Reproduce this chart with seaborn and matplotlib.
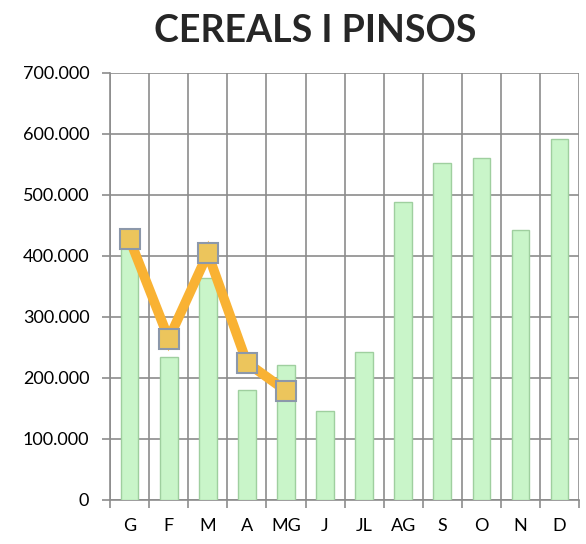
import numpy as np
import pandas as pd
import matplotlib
matplotlib.use('Agg')
import matplotlib.pyplot as plt
from matplotlib.ticker import FuncFormatter, MultipleLocator, FixedLocator
import seaborn as sns

# dades llegides del gràfic
mesos = ['G', 'F', 'M', 'A', 'MG', 'J', 'JL', 'AG', 'S', 'O', 'N', 'D']
barres = [420000, 234000, 363000, 181000, 222000, 146000, 242000, 488000, 553000, 560000, 443000, 591000]
linia_mesos = ['G', 'F', 'M', 'A', 'MG']
linia = [427000, 264000, 404000, 225000, 179000]

sns.set_theme(style='white')
plt.rcParams['font.family'] = ['Lato', 'DejaVu Sans']

df = pd.DataFrame({'mes': mesos, 'valor': barres})
df_l = pd.DataFrame({'mes': linia_mesos, 'valor': linia})

fig = plt.figure(figsize=(5.86, 5.44), dpi=100)
ax = fig.add_axes([0.188, 0.081, 0.800, 0.785])

sns.barplot(data=df, x='mes', y='valor', color='#c9f5c9', width=0.45,
            edgecolor='#9fcf9f', linewidth=1.0, saturation=1, ax=ax, zorder=3)

ax.plot(np.arange(len(linia)), df_l['valor'], color='#f9b233', linewidth=7,
        solid_joinstyle='miter', zorder=4)
ax.plot(np.arange(len(linia)), df_l['valor'], linestyle='none', marker='s',
        markersize=15, markerfacecolor='#ecc55c', markeredgecolor='#8c98aa',
        markeredgewidth=1.5, zorder=5)

ax.set_ylim(0, 700000)
ax.set_xlim(-0.5, len(mesos) - 0.5)
ax.yaxis.set_major_locator(MultipleLocator(100000))
ax.yaxis.set_major_formatter(FuncFormatter(lambda v, p: f'{int(v):,}'.replace(',', '.')))

# graella: horitzontals a cada 100.000, verticals entre categories
bounds = np.arange(-0.5, len(mesos), 1.0)
ax.xaxis.set_minor_locator(FixedLocator(bounds))
ax.grid(True, axis='y', color='#8c8c8c', linewidth=1.2, zorder=0)
ax.grid(True, axis='x', which='minor', color='#8c8c8c', linewidth=1.2, zorder=0)
ax.set_axisbelow(True)

ax.tick_params(axis='x', which='major', length=0, labelsize=13, pad=13, colors='black')
ax.tick_params(axis='x', which='minor', length=6, color='#8c8c8c', width=1.2, direction='out')
ax.tick_params(axis='y', length=6, color='#8c8c8c', width=1.2, direction='out',
               labelsize=13, pad=9, colors='black')
ax.tick_params(axis='y', left=True)
ax.tick_params(axis='x', which='minor', bottom=True)

for s in ['left', 'bottom']:
    ax.spines[s].set_color('#8c8c8c')
    ax.spines[s].set_linewidth(1.2)
ax.spines['top'].set_visible(False)
ax.spines['right'].set_visible(False)

ax.set_xlabel('')
ax.set_ylabel('')
fig.text(0.538, 0.943, 'CEREALS I PINSOS', fontsize=27, fontweight='bold',
         ha='center', va='center')

plt.savefig('out.png', dpi=100)
